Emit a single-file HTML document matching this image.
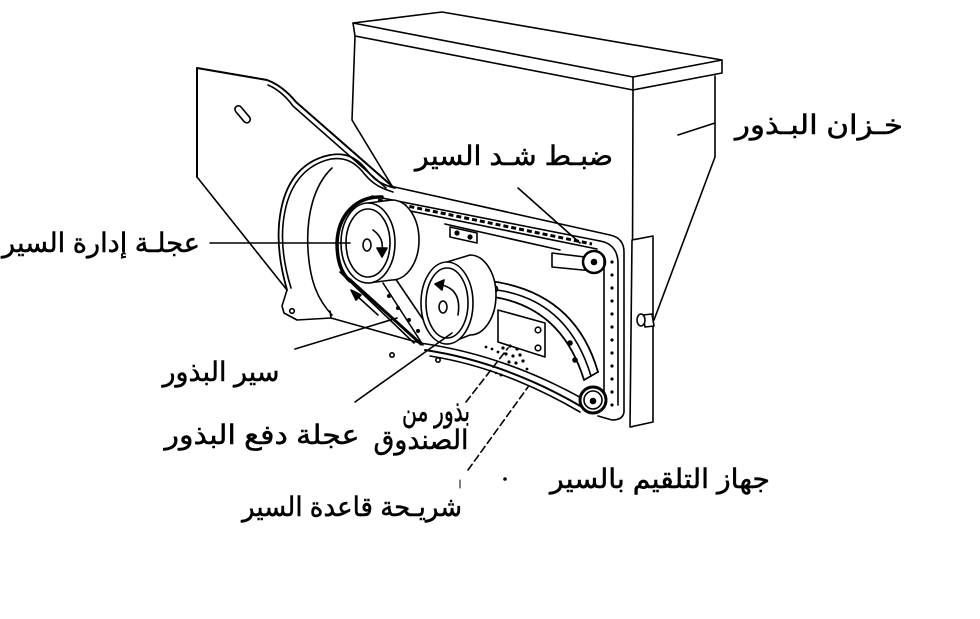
<!DOCTYPE html>
<html><head><meta charset="utf-8"><style>
html,body{margin:0;padding:0;background:#fff;}
body{width:980px;height:619px;overflow:hidden;}
svg{display:block;}
text{font-family:"Liberation Sans","DejaVu Sans",sans-serif;fill:#000;}
</style></head><body>
<svg width="980" height="619" viewBox="0 0 980 619" xmlns="http://www.w3.org/2000/svg">
<rect width="980" height="619" fill="#fff"/>
<g fill="none" stroke="#000" stroke-width="1.6" stroke-linejoin="round" stroke-linecap="round">
<!-- hopper -->
<polygon points="353,23 442,12 722,60 633,77" fill="#fff"/>
<path d="M353,23 L355,36 L633,90 L633,77"/>
<path d="M633,90 L722,73 L722,60"/>
<path d="M355,36 L352,120 L392,186"/>
<path d="M633,90 L632,427"/>
<path d="M715,76 L715,157 L654,320"/>
<!-- left plate -->
<path d="M197,177 L197,68 L267,80 Q283,86 296,102 L392,186" stroke-width="2"/>
<path d="M268,85 Q282,91 293,106 L386,188"/>
<path d="M197,177 L287,290"/>
<rect x="233" y="111" width="20" height="7" rx="3.5" transform="rotate(50 243 114)"/>
<!-- guard -->
<path d="M287,290 C279,262 276,235 281,210 C287,178 305,160 330,155 C346,152 356,158 365,168 C372,177 378,184 395,188" stroke-width="1.8"/>
<path d="M291,288 C283,262 280,235 285,211 C291,181 308,164 331,159 C345,157 354,162 362,171 C369,180 376,187 393,192"/>
<path d="M332,168 C314,185 306,215 308,250 C310,282 318,300 332,315"/>
<path d="M287,290 L282,306 L284,313 L297,320 L331,318 L330,311"/>
<circle cx="292" cy="311" r="2.3"/>
<path d="M331,318 L420,343"/>
<!-- panel top & belt upper run -->
<path d="M390,186 L610,235 Q624,238 624,252 L624,412 Q623,420 612,420 L598,416"/>
<path d="M372,196 L600,241"/>
<path d="M376,204 L597,249"/>
<path d="M378,200 L592,244" stroke-width="3" stroke-dasharray="5 3" stroke-linecap="butt"/>
<path d="M445,224 L560,250"/>
<polygon points="450,227 477,233 477,243 450,237" fill="#fff"/>
<circle cx="457" cy="233" r="1.8" fill="#000"/>
<circle cx="470" cy="237" r="1.8" fill="#000"/>
<!-- tension block & top pulley -->
<polygon points="552,253 593,258 593,271 552,267" fill="#fff"/>
<circle cx="594" cy="262" r="11" fill="#fff" stroke-width="2.5"/>
<circle cx="594" cy="262" r="2.5" fill="#000"/>
<!-- right belt -->
<path d="M600,241 Q617,244 618,262 L618,405"/>
<path d="M604,256 L604,392"/>
<g fill="#000" stroke="none">
<circle cx="612" cy="262" r="1.6"/><circle cx="612" cy="275" r="1.6"/><circle cx="612" cy="288" r="1.6"/><circle cx="612" cy="301" r="1.6"/><circle cx="612" cy="314" r="1.6"/><circle cx="612" cy="327" r="1.6"/><circle cx="612" cy="340" r="1.6"/><circle cx="612" cy="353" r="1.6"/><circle cx="612" cy="366" r="1.6"/><circle cx="612" cy="379" r="1.6"/><circle cx="612" cy="392" r="1.6"/><circle cx="612" cy="405" r="1.6"/>
</g>
<!-- right side plate -->
<polygon points="632,240 653,236 653,422 630,427" fill="#fff"/>
<path d="M643,315 L652,314 L654,326 L645,327 Z" fill="#fff"/>
<ellipse cx="641" cy="320" rx="4" ry="6" fill="#fff"/>
<!-- bottom strip -->
<path d="M420,343 Q505,355 585,400"/>
<path d="M425,350 Q505,362 582,407" stroke-width="2"/>
<path d="M430,356 Q505,368 580,412"/>
<!-- arc guard -->
<path d="M490,281 Q575,292 598,372" stroke-width="1.8"/>
<path d="M494,297 Q562,308 584,380" stroke-width="1.8"/>
<path d="M497,290 Q568,300 591,376"/>
<path d="M584,380 L598,372"/>
<path d="M490,281 L486,292 L494,297"/>
<circle cx="494" cy="289" r="3.5"/>
<circle cx="570" cy="343" r="2" fill="#000"/>
<circle cx="575" cy="360" r="2" fill="#000"/>
<!-- rect plate -->
<polygon points="498,310 545,323 545,357 498,342" fill="#fff"/>
<circle cx="538" cy="330" r="2.8"/>
<circle cx="538" cy="348" r="2.8"/>
<!-- bottom pulley -->
<circle cx="593" cy="400" r="13" fill="#fff" stroke-width="3"/>
<circle cx="593" cy="400" r="9"/>
<circle cx="593" cy="401" r="2.5" fill="#000"/>
<!-- seed dots -->
<g fill="#000" stroke="none">
<circle cx="503" cy="348" r="1.6"/><circle cx="510" cy="346" r="1.6"/><circle cx="517" cy="349" r="1.6"/><circle cx="506" cy="354" r="1.6"/><circle cx="513" cy="356" r="1.6"/><circle cx="520" cy="355" r="1.6"/><circle cx="509" cy="362" r="1.6"/><circle cx="516" cy="363" r="1.6"/><circle cx="523" cy="361" r="1.6"/><circle cx="498" cy="352" r="1.4"/><circle cx="492" cy="349" r="1.4"/><circle cx="486" cy="347" r="1.4"/><circle cx="501" cy="375" r="1.5"/><circle cx="496" cy="373" r="1.2"/><circle cx="527" cy="369" r="1.4"/>
</g>
<circle cx="392" cy="355" r="2.2"/>
<circle cx="438" cy="360" r="2.2"/>
<!-- chute -->
<path d="M383,283 L423,345"/>
<path d="M395,278 L437,340"/>
<g fill="#000" stroke="none">
<circle cx="389" cy="296" r="2"/><circle cx="398" cy="308" r="2"/><circle cx="409" cy="320" r="2"/><circle cx="418" cy="331" r="2"/>
</g>
<path d="M357,296 L378,315"/>
<polygon points="351,290 361,295 356,300" fill="#000"/>
<!-- belt lower run -->
<path d="M349,279 L421,344" stroke-width="3"/>
<path d="M340,272 L414,343"/>
<!-- drive wheel -->
<path d="M368,203 L392,200 A27,40 0 0 1 392,280 L368,283" fill="#fff"/>
<ellipse cx="368" cy="243" rx="27" ry="40" fill="#fff"/>
<ellipse cx="368" cy="243" rx="22" ry="34"/>
<path d="M382,197 C356,196 338,215 337,243 C337,262 342,274 350,281" stroke-width="3.5"/>
<ellipse cx="367" cy="245" rx="4" ry="6"/>
<path d="M373,230 Q384,238 382,250"/>
<polygon points="377,248 387,248 382,257" fill="#000"/>
<!-- seed wheel -->
<path d="M447,262 L470,255 A26,40 0 0 1 470,335 L447,344" fill="#fff"/>
<ellipse cx="447" cy="303" rx="26" ry="41" fill="#fff"/>
<ellipse cx="447" cy="303" rx="21" ry="35"/>
<ellipse cx="443" cy="307" rx="4" ry="6"/>
<path d="M458,315 Q462,290 442,285"/>
<polygon points="435,284 444,280 442,290" fill="#000"/>
<!-- leaders -->
<path d="M210,243 L350,243"/>
<path d="M295,349 L397,318"/>
<path d="M355,402 L452,333"/>
<path d="M518,188 L580,243"/>
<path d="M678,135 L715,123"/>
<path d="M466,402 L508,348" stroke-dasharray="7 4"/>
<path d="M468,470 L528,387" stroke-dasharray="7 4"/>
<path d="M460,480 L460,488" stroke-width="1"/>
<circle cx="505" cy="479" r="1" fill="#000"/>
</g>
<!-- labels -->
<g font-size="27" text-anchor="middle" stroke="#000" stroke-width="0.5">
<text x="819" y="134" textLength="168" lengthAdjust="spacingAndGlyphs">خـزان البـذور</text>
<text x="514" y="165" textLength="198" lengthAdjust="spacingAndGlyphs">ضبـط شـد السير</text>
<text x="101" y="252" textLength="198" lengthAdjust="spacingAndGlyphs">عجلـة إدارة السير</text>
<text x="221" y="381" textLength="117" lengthAdjust="spacingAndGlyphs">سير البذور</text>
<text x="262" y="444" textLength="195" lengthAdjust="spacingAndGlyphs">عجلة دفع البذور</text>
<text x="436" y="421" font-size="30" textLength="68" lengthAdjust="spacingAndGlyphs">بذور من</text>
<text x="421" y="449" textLength="95" lengthAdjust="spacingAndGlyphs">الصندوق</text>
<text x="660" y="488" textLength="220" lengthAdjust="spacingAndGlyphs">جهاز التلقيم بالسير</text>
<text x="352" y="516" textLength="220" lengthAdjust="spacingAndGlyphs">شريـحة قاعدة السير</text>
</g>
</svg>
</body></html>
